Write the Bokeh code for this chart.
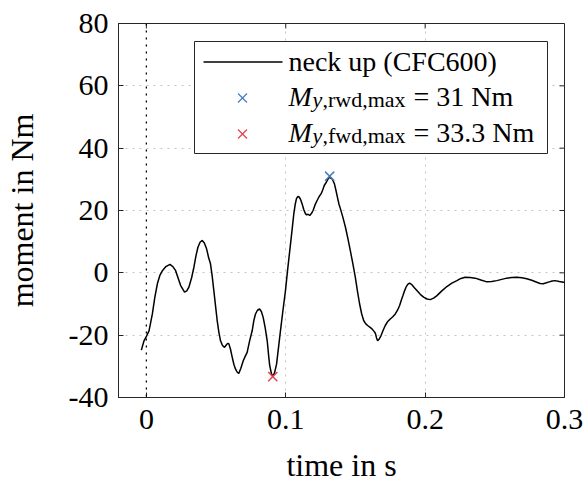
from bokeh.plotting import figure
from bokeh.models import (Range1d, FixedTicker, Span, Label,
                          BoxAnnotation, Arrow, ColumnDataSource)
from bokeh.embed import file_html
from bokeh.resources import INLINE

# Upper neck moment My over time (CFC600 filtered)
time_s = [
    -0.0036, -0.0017, 0.0002, 0.0019, 0.0043, 0.0060, 0.0079, 0.0097, 0.0115, 0.0140,
    0.0169, 0.0190, 0.0210, 0.0230, 0.0246, 0.0274, 0.0290, 0.0305, 0.0325, 0.0341,
    0.0356, 0.0370, 0.0385, 0.0401, 0.0416, 0.0432, 0.0446, 0.0460, 0.0472, 0.0484,
    0.0496, 0.0508, 0.0520, 0.0532, 0.0546, 0.0561, 0.0576, 0.0585, 0.0592, 0.0604,
    0.0616, 0.0628, 0.0640, 0.0652, 0.0663, 0.0678, 0.0695, 0.0709, 0.0723, 0.0740,
    0.0759, 0.0771, 0.0783, 0.0797, 0.0812, 0.0825, 0.0838, 0.0852, 0.0867, 0.0877,
    0.0885, 0.0897, 0.0907, 0.0920, 0.0934, 0.0948, 0.0962, 0.0980, 0.0998, 0.1013,
    0.1029, 0.1044, 0.1058, 0.1068, 0.1077, 0.1085, 0.1093, 0.1105, 0.1117, 0.1129,
    0.1141, 0.1150, 0.1160, 0.1172, 0.1184, 0.1196, 0.1210, 0.1225, 0.1240, 0.1254,
    0.1265, 0.1277, 0.1289, 0.1301, 0.1308, 0.1315, 0.1322, 0.1332, 0.1340, 0.1349,
    0.1360, 0.1373, 0.1382, 0.1392, 0.1410, 0.1428, 0.1446, 0.1463, 0.1481, 0.1499,
    0.1515, 0.1530, 0.1545, 0.1559, 0.1573, 0.1587, 0.1603, 0.1619, 0.1632, 0.1643,
    0.1651, 0.1659, 0.1671, 0.1683, 0.1698, 0.1714, 0.1732, 0.1750, 0.1768, 0.1786,
    0.1802, 0.1817, 0.1829, 0.1841, 0.1853, 0.1865, 0.1877, 0.1888, 0.1905, 0.1923,
    0.1941, 0.1965, 0.1989, 0.2013, 0.2037, 0.2061, 0.2085, 0.2120, 0.2156, 0.2192,
    0.2228, 0.2257, 0.2287, 0.2323, 0.2359, 0.2400, 0.2443, 0.2478, 0.2514, 0.2550,
    0.2586, 0.2622, 0.2658, 0.2694, 0.2729, 0.2765, 0.2801, 0.2825, 0.2848, 0.2870,
    0.2891, 0.2912, 0.2932, 0.2963, 0.2992, 0.3000,
]
moment_nm = [
    -24.8, -21.8, -20.2, -18.6, -13.2, -8.0, -3.5, -0.8, 0.7, 2.0,
    2.7, 2.0, 0.7, -2.0, -4.1, -6.2, -5.8, -4.6, -1.5, 1.8,
    5.5, 8.2, 9.8, 10.4, 9.6, 7.7, 5.0, 2.9, -1.0, -5.7,
    -10.5, -15.3, -19.0, -21.8, -23.3, -23.9, -23.0, -22.6, -22.8, -24.6,
    -27.1, -29.4, -30.9, -31.9, -32.3, -30.6, -28.2, -26.8, -25.5, -22.0,
    -18.6, -15.3, -13.2, -12.0, -11.6, -12.4, -14.3, -17.5, -21.8, -26.5,
    -29.8, -32.3, -33.3, -32.0, -29.3, -24.0, -18.6, -12.0, -5.7, 0.8,
    7.2, 13.2, 19.0, 22.0, 23.8, 24.4, 24.5, 23.7, 22.2, 20.3,
    19.0, 18.6, 18.8, 18.4, 19.0, 20.0, 21.8, 23.2, 24.5, 25.4,
    26.6, 28.1, 28.9, 29.9, 30.3, 31.0, 30.4, 30.2, 29.5, 28.6,
    26.5, 23.8, 22.0, 20.6, 17.8, 14.7, 11.0, 7.2, 3.0, -1.4,
    -6.0, -10.0, -13.2, -15.3, -16.3, -16.9, -17.4, -18.0, -18.7, -19.4,
    -20.8, -21.8, -21.2, -20.2, -18.5, -16.9, -15.6, -14.8, -14.1, -13.2,
    -12.0, -10.5, -8.8, -7.3, -5.7, -4.4, -3.6, -3.3, -3.8, -4.8,
    -5.7, -6.9, -7.8, -8.4, -8.6, -8.1, -7.3, -5.8, -4.4, -3.3,
    -2.5, -1.8, -1.4, -1.5, -1.7, -2.3, -2.9, -2.8, -2.5, -2.1,
    -1.7, -1.5, -1.4, -1.6, -1.9, -2.4, -3.0, -3.4, -3.5, -3.2,
    -2.9, -2.6, -2.5, -2.8, -3.0, -3.0,
]

# Extreme values (rearward / forward bending)
rwd_time, rwd_moment = 0.1315, 31.0
fwd_time, fwd_moment = 0.0907, -33.3

x_ticks = [0, 0.1, 0.2, 0.3]
x_tick_labels = ["0", "0.1", "0.2", "0.3"]
y_ticks = [-40, -20, 0, 20, 40, 60, 80]
y_tick_labels = ["-40", "-20", "0", "20", "40", "60", "80"]

X_MIN, X_MAX = -0.02, 0.3
Y_MIN, Y_MAX = -40, 80
FRAME_W, FRAME_H = 446, 374
TICK_PX = 5

SERIF = "Liberation Serif"
FRAME_COLOR = "#262626"
BLUE = "#4a7ebb"
RED = "#e5444a"

p = figure(frame_width=FRAME_W, frame_height=FRAME_H,
           x_range=Range1d(X_MIN, X_MAX), y_range=Range1d(Y_MIN, Y_MAX),
           output_backend="svg", toolbar_location=None,
           min_border_left=118, min_border_right=21,
           min_border_top=23, min_border_bottom=89,
           background_fill_color="white", border_fill_color="white",
           outline_line_color=FRAME_COLOR, outline_line_width=1)

# grid: light dotted lines at the inner ticks only
p.xgrid.ticker = FixedTicker(ticks=[0.1, 0.2])
p.ygrid.ticker = FixedTicker(ticks=[-20, 0, 20, 40, 60])
for g in (p.xgrid[0], p.ygrid[0]):
    g.grid_line_color = "#c4c4c4"
    g.grid_line_dash = "2 5"
    g.grid_line_width = 1


def style_axis(ax, ticks, labels):
    ax.ticker = FixedTicker(ticks=ticks)
    ax.major_label_overrides = {t: s for t, s in zip(ticks, labels)}
    ax.minor_tick_line_color = None
    ax.major_tick_in = TICK_PX
    ax.major_tick_out = 0
    ax.major_tick_line_color = FRAME_COLOR
    ax.axis_line_color = FRAME_COLOR
    ax.major_label_text_font = SERIF
    ax.major_label_text_font_size = "30px"
    ax.major_label_text_color = "black"
    ax.axis_label_text_font = SERIF
    ax.axis_label_text_font_size = "32px"
    ax.axis_label_text_font_style = "normal"
    ax.axis_label_text_color = "black"


xa = p.xaxis[0]
style_axis(xa, x_ticks, x_tick_labels)
xa.axis_label = "time in s"
xa.major_label_standoff = 12
xa.axis_label_standoff = 15

ya = p.yaxis[0]
style_axis(ya, y_ticks, y_tick_labels)
ya.axis_label = "moment in Nm"
ya.major_label_standoff = 10
ya.axis_label_standoff = 26

# mirrored inward ticks on the top and right edges of the frame
dy_tick = TICK_PX * (Y_MAX - Y_MIN) / FRAME_H
dx_tick = TICK_PX * (X_MAX - X_MIN) / FRAME_W
p.segment(x0=x_ticks, y0=[Y_MAX] * len(x_ticks),
          x1=x_ticks, y1=[Y_MAX - dy_tick] * len(x_ticks),
          line_color=FRAME_COLOR, line_width=1)
p.segment(x0=[X_MAX] * len(y_ticks), y0=y_ticks,
          x1=[X_MAX - dx_tick] * len(y_ticks), y1=y_ticks,
          line_color=FRAME_COLOR, line_width=1)

# impact instant
p.add_layout(Span(location=0, dimension="height", line_color="black",
                  line_dash="2 5", line_width=1.3))

src = ColumnDataSource(data=dict(t=time_s, m=moment_nm))
p.line("t", "m", source=src, line_color="black", line_width=1.5)

p.scatter([rwd_time], [rwd_moment], marker="x", size=13,
          line_color=BLUE, line_width=1.5)
p.scatter([fwd_time], [fwd_moment], marker="x", size=13,
          line_color=RED, line_width=1.5)

# legend box (screen units relative to the frame)
p.add_layout(BoxAnnotation(left=76, right=429, top=356, bottom=244,
                           left_units="screen", right_units="screen",
                           top_units="screen", bottom_units="screen",
                           fill_color="white", fill_alpha=1.0,
                           line_color=FRAME_COLOR, line_width=1,
                           line_alpha=1.0))

p.add_layout(Arrow(end=None, x_start=85, y_start=335.5, x_end=164, y_end=335.5,
                   start_units="screen", end_units="screen",
                   line_color="black", line_width=1.4))


def legend_cross(cx, cy, color, half=4.5):
    for dy in (-half, half):
        p.add_layout(Arrow(end=None, x_start=cx - half, y_start=cy - dy,
                           x_end=cx + half, y_end=cy + dy,
                           start_units="screen", end_units="screen",
                           line_color=color, line_width=1.2))


legend_cross(124, 299.5, BLUE)
legend_cross(124, 263.5, RED)


def label(x, y, text, size, style="normal"):
    p.add_layout(Label(x=x, y=y, x_units="screen", y_units="screen", text=text,
                       text_font=SERIF, text_font_size=size,
                       text_font_style=style, text_color="black",
                       text_align="left", text_baseline="alphabetic"))


label(170, 336, "neck up (CFC600)", "28px")

for base, tag, val in ((301.5, ",rwd,max", abs(rwd_moment)),
                       (265.5, ",fwd,max", abs(fwd_moment))):
    label(170, base, "M", "28px", "italic")
    label(194, base - 3.5, "y", "22px", "italic")
    label(204, base - 3.5, tag, "22px")
    label(295, base, f"= {val:g} Nm", "28px")

open("out.html", "w").write(file_html(p, INLINE))
